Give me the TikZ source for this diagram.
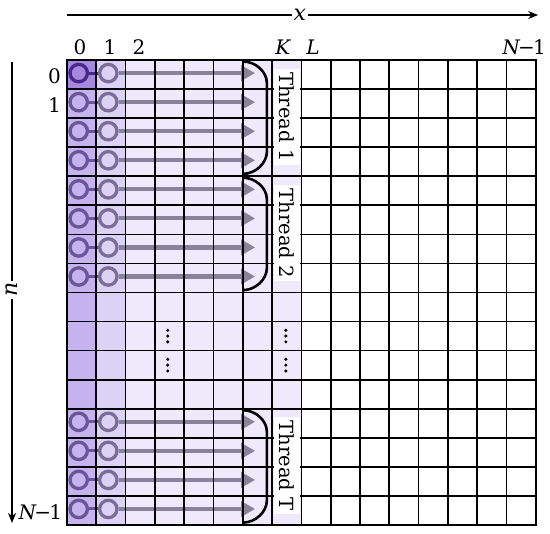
\documentclass[tikz,border=0pt]{standalone}
\usepackage{fontspec}
\setmainfont{DejaVu Serif}
\usetikzlibrary{arrows.meta}
\definecolor{cellA}{RGB}{166,136,222}
\definecolor{cellB}{RGB}{197,178,238}
\definecolor{cellC}{RGB}{220,210,245}
\definecolor{cellD}{RGB}{238,234,251}
\definecolor{ringdark}{RGB}{72,40,138}
\definecolor{ringA}{RGB}{104,86,152}
\definecolor{ringB}{RGB}{122,110,152}
\definecolor{flowgray}{RGB}{136,131,155}
\newcommand{\Nmone}{{\itshape N}\kern-1.8pt−\kern-1.8pt1}
\begin{document}
\begin{tikzpicture}[x=29.3pt,y=-29.06pt,
  ring/.style={circle,draw=#1,line width=3.3pt,minimum size=17.4pt,inner sep=0pt},
  link/.style={draw=#1,line width=3pt},
  flow/.style={draw=flowgray,line width=4.2pt,-{Triangle[length=14pt,width=15pt]}},
  bracket/.style={line width=2.6pt},
  gridline/.style={line width=1.7pt,line cap=rect},
  threadlbl/.style={fill=white,rotate=-90,font=\fontsize{19.5}{22}\selectfont,minimum height=26.5pt,inner xsep=3.5pt,inner ysep=0pt},
  lbl/.style={font=\fontsize{20}{22}\selectfont,inner sep=1pt},
  axisline/.style={line width=1.8pt,-{Stealth[length=10pt,width=8pt]}},
  axislbl/.style={font=\fontsize{22}{24}\selectfont\itshape,fill=white,inner sep=2pt}
]
\useasboundingbox (-2.287,-2.065) rectangle (16.485,16.311);
% cell shading
\fill[cellB] (0,0) rectangle (1,16);
\fill[cellA] (0,0) rectangle (1,1);
\fill[cellC] (1,0) rectangle (2,16);
\fill[cellD] (2,0) rectangle (8,16);
% rings, links and flow arrows
\foreach \r in {0,...,7,12,13,14,15} {
  \ifnum\r=0
    \node[ring=ringdark] (a\r) at (0.40,\r+0.45) {};
  \else
    \node[ring=ringA] (a\r) at (0.40,\r+0.45) {};
  \fi
  \node[ring=ringB] (b\r) at (1.41,\r+0.45) {};
  \coordinate (tip\r) at (6.42,\r+0.45);
  \ifnum\r=0
    \draw[link=ringdark] (a\r) -- (b\r);
  \else
    \draw[link=ringA] (a\r) -- (b\r);
  \fi
  \draw[flow] (b\r) -- (tip\r);
}
% grid
\foreach \i in {0,...,16} {
  \draw[gridline] (\i,0) -- (\i,16);
  \draw[gridline] (0,\i) -- (16,\i);
}
% brackets
\foreach \t in {0,4,12} {
  \draw[bracket] (6,\t+0.05) .. controls (6.45,\t+0.05) and (6.82,\t+0.42) .. (6.82,\t+0.78)
    -- (6.82,\t+3.17) .. controls (6.82,\t+3.53) and (6.45,\t+3.92) .. (6,\t+3.92);
}
% thread labels
\node[threadlbl] (th1) at (7.5,1.96) {Thread 1};
\node[threadlbl] (th2) at (7.5,5.96) {Thread 2};
\node[threadlbl] (thT) at (7.5,13.96) {Thread T};
% dots
\foreach \xx in {3.44,7.47} {
  \foreach \yy in {9.5,10.5} {
    \foreach \d in {-0.2,0,0.2} {
      \fill (\xx,\yy+\d) circle (1.7pt);
    }
  }
}
% column labels
\node[lbl,anchor=base] (k0) at (0.44,-0.2) {0};
\node[lbl,anchor=base] (k1) at (1.47,-0.2) {1};
\node[lbl,anchor=base] (k2) at (2.46,-0.2) {2};
\node[lbl,anchor=base] (kK) at (7.37,-0.2) {\itshape K};
\node[lbl,anchor=base] (kL) at (8.40,-0.2) {\itshape L};
\node[lbl,anchor=base] (kN) at (15.6,-0.2) {\Nmone};
% row labels
\node[lbl,anchor=base east] (r0) at (-0.17,0.80) {0};
\node[lbl,anchor=base east] (r1) at (-0.17,1.81) {1};
\node[lbl,anchor=base east] (rN) at (-0.13,15.81) {\Nmone};
% axes
\coordinate (xs) at (0,-1.548);
\coordinate (xe) at (16.08,-1.548);
\coordinate (ns) at (-1.877,0.06);
\coordinate (ne) at (-1.877,15.93);
\draw[axisline] (xs) -- (xe);
\draw[axisline] (ns) -- (ne);
\node[axislbl] (xl) at (7.95,-1.548) {x};
\node[axislbl,rotate=90] (nl) at (-1.877,7.91) {n};
\end{tikzpicture}
\end{document}
